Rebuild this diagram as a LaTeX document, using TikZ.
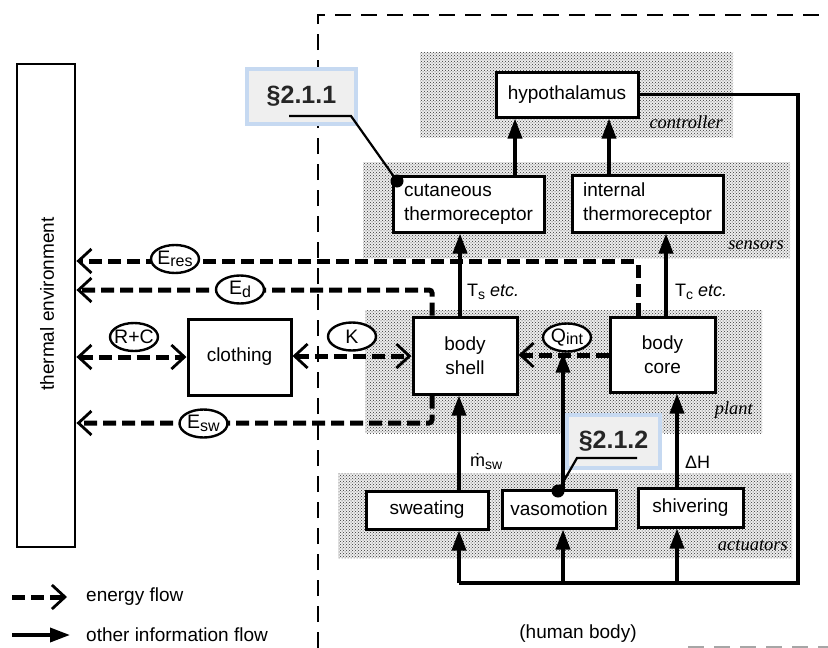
\documentclass[tikz,border=0pt]{standalone}
\usepackage{fontspec}
\setmainfont{Liberation Sans}
\newfontfamily\serifit{Liberation Serif}
\usetikzlibrary{arrows.meta,shapes.geometric,patterns}
\definecolor{calloutfill}{HTML}{EFEFEF}
\definecolor{calloutline}{HTML}{C6D9F1}
\newcommand\lowsub[1]{\raisebox{-3pt}{\fontsize{14}{14}\selectfont #1}}
\newcommand\labsub[1]{\raisebox{-2.5pt}{\fontsize{16}{16}\selectfont #1}}
\begin{document}
\begin{tikzpicture}[x=1pt,y=-1pt,
  stipbg/.style={fill=black!7},
  stip/.style={pattern=crosshatch dots, pattern color=black!80},
  box/.style={draw, line width=3pt, fill=white, inner sep=0pt, font=\fontsize{19}{24}\selectfont, align=center},
  lab/.style={draw, ellipse, line width=2.4pt, fill=white, inner xsep=-4pt, inner ysep=-4pt, minimum width=48pt, minimum height=28pt, font=\fontsize{19.5}{19.5}\selectfont},
  info/.style={line width=3.6pt, -{Triangle[length=20pt,width=14pt]}},
  eb/.tip={Straight Barb[length=13pt,width=24pt,line width=2.8pt]},
  energy/.style={line width=5pt, dash pattern=on 13pt off 6pt, -eb},
  energy2/.style={line width=5pt, dash pattern=on 13pt off 6pt, eb-eb},
  region/.style={font=\serifit\itshape\fontsize{18.5}{18.5}\selectfont, inner sep=0pt},
  small/.style={font=\fontsize{18}{18}\selectfont, inner sep=0pt},
  callout/.style={draw=calloutline, line width=3.2pt, fill=calloutfill, minimum width=109pt, minimum height=55pt, inner sep=0pt, font=\bfseries\fontsize{25}{25}\selectfont, text=black!85},
  leader/.style={line width=2.2pt},
  boundary/.style={line width=2.2pt, dash pattern=on 16pt off 10pt}
]
\useasboundingbox (0,0) rectangle (828,648);

% stippled regions
\foreach \a/\b in {{(420,52)}/{(733,137)}, {(363,162)}/{(790,258)}, {(365,310)}/{(762,433)}, {(338,473)}/{(792,558)}}{
  \fill[stipbg] \a rectangle \b;
  \fill[stip] \a rectangle \b;
}

% human body boundary
\draw[boundary] (318,648) -- (318,15) -- (828,15);
\draw[boundary, black!35] (688,647) -- (828,647);

% nodes
\node[draw, line width=2.8pt, minimum width=58pt, minimum height=483pt, inner sep=0pt] (env) at (46,305.5) {};
\node[rotate=90, font=\fontsize{19}{19}\selectfont] (envt) at (47,304) {thermal environment};
\node[box, minimum width=142pt, minimum height=45pt] (hypo) at (567,94.5) {hypothalamus};
\node[box, minimum width=151pt, minimum height=56pt, align=left] (cut) at (468.5,204) {cutaneous\\thermoreceptor};
\node[box, minimum width=151pt, minimum height=57pt, align=left] (int) at (647.5,203.5) {internal\\thermoreceptor};
\node[box, minimum width=104pt, minimum height=77pt] (shell) at (465,355.5) {body\\shell};
\node[box, minimum width=105pt, minimum height=75pt] (core) at (662.5,354.5) {body\\core};
\node[box, minimum width=103pt, minimum height=76pt] (cloth) at (239.5,357) {clothing};
\node[box, minimum width=122pt, minimum height=38pt] (sweat) at (427,510) {sweating};
\node[box, minimum width=114pt, minimum height=38pt] (vaso) at (559,509) {vasomotion};
\node[box, minimum width=105pt, minimum height=39pt] (shiv) at (690.5,507.5) {shivering};

% region labels
\node[region, anchor=east] (lctrl) at (723,122) {controller};
\node[region, anchor=east] (lsens) at (784,245) {sensors};
\node[region, anchor=east] (lplant) at (753,410) {plant};
\node[region, anchor=east] (lact) at (788,545) {actuators};

% column coordinates
\coordinate (xa) at (515,0);
\coordinate (xb) at (609,0);
\coordinate (xs) at (460,0);
\coordinate (xc) at (666,0);
\coordinate (xsw) at (459,0);
\coordinate (xv) at (563,0);
\coordinate (xsh) at (677,0);
\coordinate (fbR) at (798,583);
\coordinate (fbL) at (459,583);
\coordinate (yq) at (0,355);

% information flows
\draw[info] (cut.north -| xa) -- (hypo.south -| xa);
\draw[info] (int.north -| xb) -- (hypo.south -| xb);
\draw[info] (shell.north -| xs) -- (cut.south -| xs);
\draw[info] (core.north -| xc) -- (int.south -| xc);
\draw[line width=3.3pt] (hypo.east) -| (fbR) -- (fbL);
\draw[info] (fbL) -- (sweat.south -| xsw);
\draw[info] (fbL -| xv) -- (vaso.south -| xv);
\draw[info] (fbL -| xsh) -- (shiv.south -| xsh);
\draw[info] (sweat.north -| xsw) -- (shell.south -| xsw);
\draw[info] (shiv.north -| xsh) -- (core.south -| xsh);

% energy flows
\coordinate (res) at (638,261);
\coordinate (ed) at (432,290);
\coordinate (esw) at (432,423);
\draw[energy, rounded corners=3pt] (core.north -| res) |- (env.east |- res);
\draw[energy, rounded corners=3pt] (shell.north -| ed) |- (env.east |- ed);
\draw[energy, rounded corners=3pt] (shell.south -| esw) |- (env.east |- esw);
\draw[energy2] (env.east |- cloth) -- (cloth.west);
\draw[energy2] (cloth.east |- 0,356) -- (shell.west |- 0,356);
\draw[energy] (core.west |- yq) -- (shell.east |- yq);
\node[lab] (qint) at (567,337.5) {Q\labsub{int}};
\draw[info] (vaso.north -| xv) -- (qint.south -| xv);

% flow labels
\node[lab] (lres) at (175,259) {E\labsub{res}};
\node[lab] (ld) at (240,289.5) {E\labsub{d}};
\node[lab] (lrc) at (134,337) {R+C};
\node[lab] (lk) at (352,336.5) {K};
\node[lab] (lsw) at (203.5,423.5) {E\labsub{sw}};

\node[small, anchor=west] (ts) at (467,292) {T\lowsub{s} \textit{etc.}};
\node[small, anchor=west] (tc) at (675,292) {T\lowsub{c} \textit{etc.}};
\node[small, anchor=west] (msw) at (470,462) {\.{m}\lowsub{sw}};
\node[small, anchor=west] (dh) at (685,462) {ΔH};

% callouts
\node[callout] (c1) at (301.5,96.5) {§2.1.1};
\node[callout, minimum width=93pt, minimum height=53pt] (c2) at (613.5,441.5) {§2.1.2};
\coordinate (u1a) at (289,116);
\coordinate (u1b) at (351,116);
\coordinate (d1) at (397,181);
\draw[leader] (u1a) -- (u1b) -- (d1);
\fill (d1) circle (6.5pt);
\coordinate (u2a) at (637,458);
\coordinate (u2b) at (577,458);
\coordinate (d2) at (558,491);
\draw[leader] (u2a) -- (u2b) -- (d2);
\fill (d2) circle (6.5pt);

% legend
\coordinate (le1a) at (12,597);
\coordinate (le1b) at (67,597);
\coordinate (le2a) at (12,635);
\coordinate (le2b) at (70,635);
\draw[energy] (le1a) -- (le1b);
\draw[info] (le2a) -- (le2b);
\node[small, anchor=west, font=\fontsize{19}{19}\selectfont] (leg1) at (86,597) {energy flow};
\node[small, anchor=west, font=\fontsize{19}{19}\selectfont] (leg2) at (86,635) {other information flow};

\node[font=\fontsize{19}{19}\selectfont] (hb) at (578,634) {(human body)};
\end{tikzpicture}
\end{document}
